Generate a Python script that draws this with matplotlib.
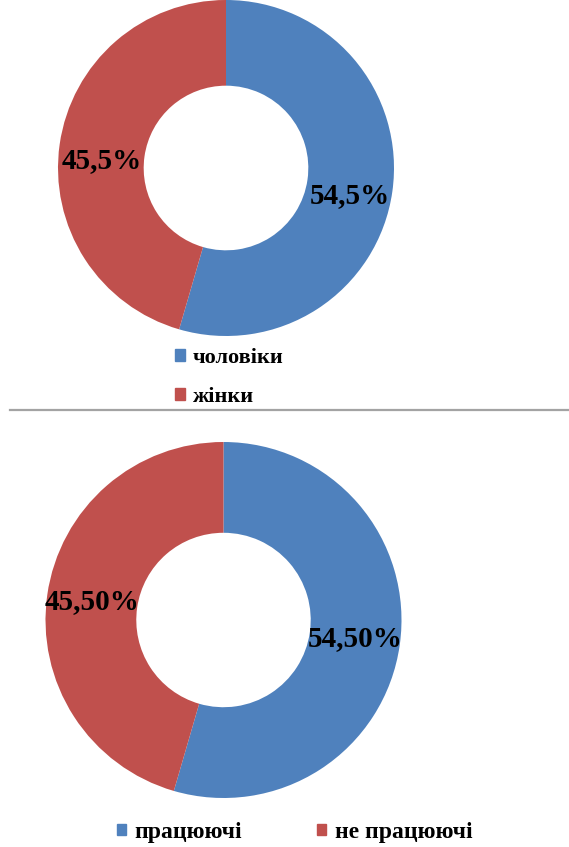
import matplotlib.pyplot as plt
from matplotlib.lines import Line2D
from matplotlib.patches import Patch

# data
gender_labels = ["чоловіки", "жінки"]
gender_values = [54.5, 45.5]
work_labels = ["працюючі", "не працюючі"]
work_values = [54.50, 45.50]
colors = ["#4F81BD", "#C0504D"]

W, H = 569, 847
plt.rcParams['font.family'] = ['Liberation Serif', 'DejaVu Serif']
plt.rcParams['font.weight'] = 'bold'

fig = plt.figure(figsize=(W / 100, H / 100), dpi=100)


def px_axes(cx, cy, r):
    # square axes centred at pixel (cx, cy) measured from the top-left
    return fig.add_axes([(cx - r) / W, (H - cy - r) / H, 2 * r / W, 2 * r / H])


def donut(ax, values, fmt, dy=0.0):
    wedges, texts, autotexts = ax.pie(
        values, colors=colors, startangle=90, counterclock=False,
        wedgeprops=dict(width=0.51, edgecolor="none"),
        autopct=lambda p: fmt.format(p).replace(".", ","),
        pctdistance=0.745,
        textprops=dict(fontsize=21, fontweight="bold", color="black",
                       family="Liberation Serif"))
    for t in autotexts:
        x, y = t.get_position()
        t.set_position((x, y + dy))
    ax.set_xlim(-1, 1)
    ax.set_ylim(-1, 1)
    return wedges


# ===== Top donut: gender =====
ax1 = px_axes(226, 168, 168)
w1 = donut(ax1, gender_values, "{:.1f}%", dy=-0.06)
fig.legend(handles=[Patch(color=c, label=l) for c, l in zip(colors, gender_labels)],
           loc="upper left", bbox_to_anchor=(175 / W, 1 - 348 / H),
           frameon=False, prop=dict(family="Liberation Serif", weight="bold", size=16),
           handlelength=0.45, handleheight=0.45,
           handletextpad=0.35, labelspacing=0.85, borderpad=0, borderaxespad=0)

# separator line
fig.add_artist(Line2D([10 / W, 1], [1 - 410 / H, 1 - 410 / H],
                      transform=fig.transFigure, color="#a3a3a3", lw=1.6))

# ===== Bottom donut: employment =====
ax2 = px_axes(223.5, 620, 178)
w2 = donut(ax2, work_values, "{:.2f}%")
fig.legend(handles=[Patch(color=c, label=l) for c, l in zip(colors, work_labels)],
           loc="upper left", bbox_to_anchor=(117 / W, 1 - 822 / H), ncol=2,
           frameon=False, prop=dict(family="Liberation Serif", weight="bold", size=17),
           handlelength=0.38, handleheight=0.38,
           handletextpad=0.35, columnspacing=3.2, borderpad=0, borderaxespad=0)

fig.savefig("out.png", dpi=100)
